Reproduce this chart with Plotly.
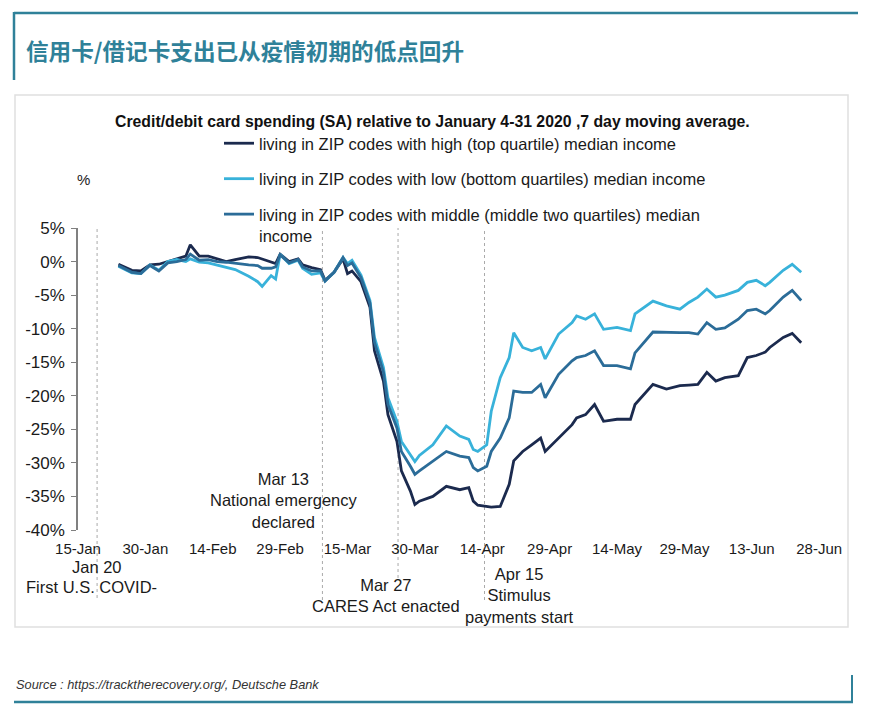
import plotly.graph_objects as go

# ---------------- data ----------------
dates = ["2020-01-24","2020-01-27","2020-01-29","2020-01-31",
         "2020-02-02","2020-02-04","2020-02-06","2020-02-08","2020-02-09","2020-02-11","2020-02-13","2020-02-15",
         "2020-02-17","2020-02-19","2020-02-22","2020-02-24","2020-02-25","2020-02-27","2020-02-28","2020-02-29",
         "2020-03-02","2020-03-04","2020-03-05","2020-03-07","2020-03-09","2020-03-10","2020-03-12","2020-03-14",
         "2020-03-15","2020-03-16","2020-03-18","2020-03-20","2020-03-21","2020-03-23","2020-03-24","2020-03-26",
         "2020-03-27","2020-03-29","2020-03-30","2020-03-31",
         "2020-04-03","2020-04-06","2020-04-09","2020-04-11","2020-04-12","2020-04-13","2020-04-15","2020-04-16",
         "2020-04-18","2020-04-20","2020-04-21","2020-04-23","2020-04-25","2020-04-27","2020-04-28",
         "2020-05-01","2020-05-04","2020-05-05","2020-05-07","2020-05-09","2020-05-11","2020-05-14","2020-05-17",
         "2020-05-18","2020-05-22","2020-05-25","2020-05-28","2020-05-30",
         "2020-06-01","2020-06-03","2020-06-05","2020-06-07","2020-06-10","2020-06-12","2020-06-14","2020-06-16",
         "2020-06-17","2020-06-20","2020-06-22","2020-06-24"]

high_income = [-0.4, -1.3, -1.4, -0.5,
               -0.4, 0.0, 0.3, 0.8, 2.5, 0.8, 0.8, 0.4, 0.0, 0.3, 0.7, 0.6, 0.4, 0.0, -0.3, 1.1,
               0.0, 0.4, -0.5, -0.9, -1.2, -2.8, -1.6, 0.4, -1.8, -1.4, -3.0, -6.8, -13.3, -17.8, -22.8, -26.8,
               -31.2, -34.2, -36.2, -35.7,
               -35.0, -33.5, -34.0, -33.7, -35.7, -36.3, -36.5, -36.6, -36.5, -33.2, -29.7, -28.3, -27.3, -26.3, -28.3,
               -26.3, -24.3, -23.3, -22.8, -21.3, -23.8, -23.5, -23.5, -21.3, -18.3, -19.0, -18.5, -18.4,
               -18.3, -16.5, -17.8, -17.3, -17.0, -14.3, -14.0, -13.5, -12.8, -11.3, -10.7, -12.1]

low_income = [-0.7, -1.7, -1.8, -0.5,
              -1.3, 0.0, 0.3, 0.0, 0.4, -0.1, -0.2, -0.5, -0.9, -1.2, -2.2, -3.0, -3.7, -2.1, -2.6, 1.1,
              -0.3, 0.2, -1.0, -1.9, -1.7, -2.9, -1.6, 0.6, -0.3, 0.2, -2.0, -5.8, -11.3, -15.8, -20.3, -23.8,
              -26.8, -28.7, -29.8, -28.9,
              -27.3, -24.5, -26.0, -26.5, -28.0, -28.3, -27.3, -22.3, -17.3, -14.3, -10.6, -12.8, -13.3, -12.8, -14.5,
              -10.8, -9.1, -8.1, -8.6, -7.8, -10.1, -9.8, -10.3, -7.8, -5.9, -6.6, -7.1, -6.1,
              -5.3, -4.1, -5.3, -5.0, -4.3, -3.1, -2.8, -3.6, -3.1, -1.3, -0.4, -1.6]

middle_income = [-0.6, -1.6, -1.8, -0.6,
                 -1.4, -0.2, 0.0, 0.3, 1.1, 0.2, 0.3, 0.0, -0.1, -0.3, -0.5, -0.6, -1.0, -1.0, -0.8, 1.0,
                 -0.2, 0.3, -0.8, -1.4, -1.4, -2.9, -1.6, 0.6, -0.6, -0.2, -2.4, -6.2, -12.0, -16.5, -21.3, -24.8,
                 -28.3, -30.5, -31.7, -31.2,
                 -29.7, -28.3, -29.0, -29.2, -30.7, -31.2, -30.5, -28.3, -26.3, -23.3, -19.3, -19.5, -19.5, -18.3, -20.3,
                 -16.8, -14.8, -14.3, -14.0, -13.3, -15.5, -15.5, -16.0, -13.6, -10.5, -10.6, -10.6, -10.6,
                 -10.8, -9.1, -10.1, -9.9, -8.6, -7.3, -7.1, -7.8, -7.3, -5.3, -4.3, -5.8]

series_names = ["living in ZIP codes with high (top quartile) median income",
                "living in ZIP codes with low (bottom quartiles) median income",
                "living in ZIP codes with middle (middle two quartiles) median<br>income"]

x_tick_dates = ["2020-01-15","2020-01-30","2020-02-14","2020-02-29","2020-03-15","2020-03-30",
                "2020-04-14","2020-04-29","2020-05-14","2020-05-29","2020-06-13","2020-06-28"]
x_tick_labels = ["15-Jan","30-Jan","14-Feb","29-Feb","15-Mar","30-Mar",
                 "14-Apr","29-Apr","14-May","29-May","13-Jun","28-Jun"]
y_tick_vals = [5, 0, -5, -10, -15, -20, -25, -30, -35, -40]
y_tick_labels = ["5%", "0%", "-5%", "-10%", "-15%", "-20%", "-25%", "-30%", "-35%", "-40%"]

event_line_dates = ["2020-01-19 06:00", "2020-03-09 10:00", "2020-03-26 06:00", "2020-04-14 12:00"]

# ---------------- layout helpers (screen pixel -> paper) ----------------
OFF = 8                      # page body margin
W, H = 879 - OFF, 712 - OFF
L, R, T, B = 78, 836, 228, 530   # plot area in screen pixels
def px(x):
    return (x - L) / (R - L)
def py(y):
    return (B - y) / (B - T)

FONT = "Liberation Sans, Arial, sans-serif"
TEAL = "#2f8199"
colors = ["#1b2a4e", "#38b2da", "#2b6c98"]
values = [high_income, low_income, middle_income]

fig = go.Figure()
for i, (name, vals, col) in enumerate(zip(series_names, values, colors)):
    fig.add_trace(go.Scatter(x=dates, y=vals, mode="lines", name=name,
                             line=dict(color=col, width=2.8), legendgroup=str(i)))

shapes = []
event_bottoms = [598, 600, 578, 600]
for d, yb in zip(event_line_dates, event_bottoms):
    shapes.append(dict(type="line", xref="x", yref="paper", x0=d, x1=d, y0=py(yb), y1=1.0,
                       line=dict(color="#aaaaaa", width=1, dash="3px,3px"), layer="below"))
shapes.append(dict(type="rect", xref="paper", yref="paper", x0=px(15), x1=px(848), y0=py(627), y1=py(95),
                   line=dict(color="#e0e0e0", width=1.5), layer="below"))
shapes.append(dict(type="line", xref="paper", yref="paper", x0=px(14), x1=px(858), y0=py(13), y1=py(13),
                   line=dict(color=TEAL, width=2.5)))
shapes.append(dict(type="line", xref="paper", yref="paper", x0=px(14), x1=px(14), y0=py(12), y1=py(80),
                   line=dict(color=TEAL, width=2.5)))
shapes.append(dict(type="line", xref="paper", yref="paper", x0=px(14), x1=px(853), y0=py(702), y1=py(702),
                   line=dict(color=TEAL, width=2.5)))
shapes.append(dict(type="line", xref="paper", yref="paper", x0=px(852), x1=px(852), y0=py(675), y1=py(703),
                   line=dict(color=TEAL, width=2)))

txt = dict(color="#1a1a1a", family=FONT, size=16.5)
annotations = [
    dict(text="<b>信用卡/借记卡支出已从疫情初期的低点回升</b>", x=px(24), y=py(50), xanchor="left", yanchor="middle",
         font=dict(family="Noto Sans CJK SC", size=22.6, color=TEAL)),
    dict(text="<b>Credit/debit card spending (SA) relative to January 4-31 2020 ,7 day moving average.</b>",
         x=px(432), y=py(121), xanchor="center", yanchor="middle", font=dict(family=FONT, size=15.8, color="#111")),
    dict(text="%", x=px(83), y=py(179), xanchor="center", yanchor="middle", font=dict(family=FONT, size=15, color="#222")),
    dict(text="Jan 20", x=px(97), y=py(567), xanchor="center", yanchor="middle", font=txt),
    dict(text="First U.S. COVID-", x=px(91), y=py(587), xanchor="center", yanchor="middle", font=txt),
    dict(text="Mar 13<br>National emergency<br>declared", x=px(283), y=py(500), xanchor="center", yanchor="middle", font=txt),
    dict(text="Mar 27<br>CARES Act enacted", x=px(386), y=py(595), xanchor="center", yanchor="middle", font=txt),
    dict(text="Apr 15<br>Stimulus<br>payments start", x=px(519), y=py(595), xanchor="center", yanchor="middle", font=txt),
    dict(text="<i>Source : https://tracktherecovery.org/, Deutsche Bank</i>", x=px(14), y=py(684),
         xanchor="left", yanchor="middle", font=dict(family=FONT, size=12.8, color="#333")),
]
for a in annotations:
    a.update(xref="paper", yref="paper", showarrow=False)

fig.update_layout(
    width=W, height=H,
    margin=dict(l=L - OFF, r=W - (R - OFF), t=T - OFF, b=H - (B - OFF), pad=0),
    paper_bgcolor="white", plot_bgcolor="white",
    font=dict(family=FONT, color="#1a1a1a"),
    showlegend=True,
    legend=dict(x=px(219), y=py(126), xanchor="left", yanchor="top", bgcolor="rgba(0,0,0,0)",
                font=dict(family=FONT, size=16.5, color="#1a1a1a"), itemwidth=30, tracegroupgap=11,
                valign="top", traceorder="grouped"),
    xaxis=dict(type="date", range=["2020-01-15", "2020-07-01 18:00"], tickvals=x_tick_dates, ticktext=x_tick_labels,
               showgrid=False, zeroline=False, showline=False, ticks="", ticklabelstandoff=8,
               tickfont=dict(family=FONT, size=15, color="#1a1a1a")),
    xaxis2=dict(type="date", overlaying="x", matches="x", anchor="free", position=py(261), side="bottom",
                tickvals=x_tick_dates, showticklabels=False, showgrid=False, zeroline=False,
                showline=True, linecolor="#808080", linewidth=1.5, ticks="outside", ticklen=4,
                tickcolor="#808080", tickwidth=1),
    yaxis=dict(range=[-40, 5], tickvals=y_tick_vals, ticktext=y_tick_labels, showgrid=False, zeroline=False,
               showline=True, linecolor="#808080", linewidth=1.5, ticks="outside", ticklen=5, ticklabelstandoff=3,
               tickcolor="#808080", tickfont=dict(family=FONT, size=17, color="#1a1a1a")),
    shapes=shapes, annotations=annotations,
)

fig.write_html("out.html")
